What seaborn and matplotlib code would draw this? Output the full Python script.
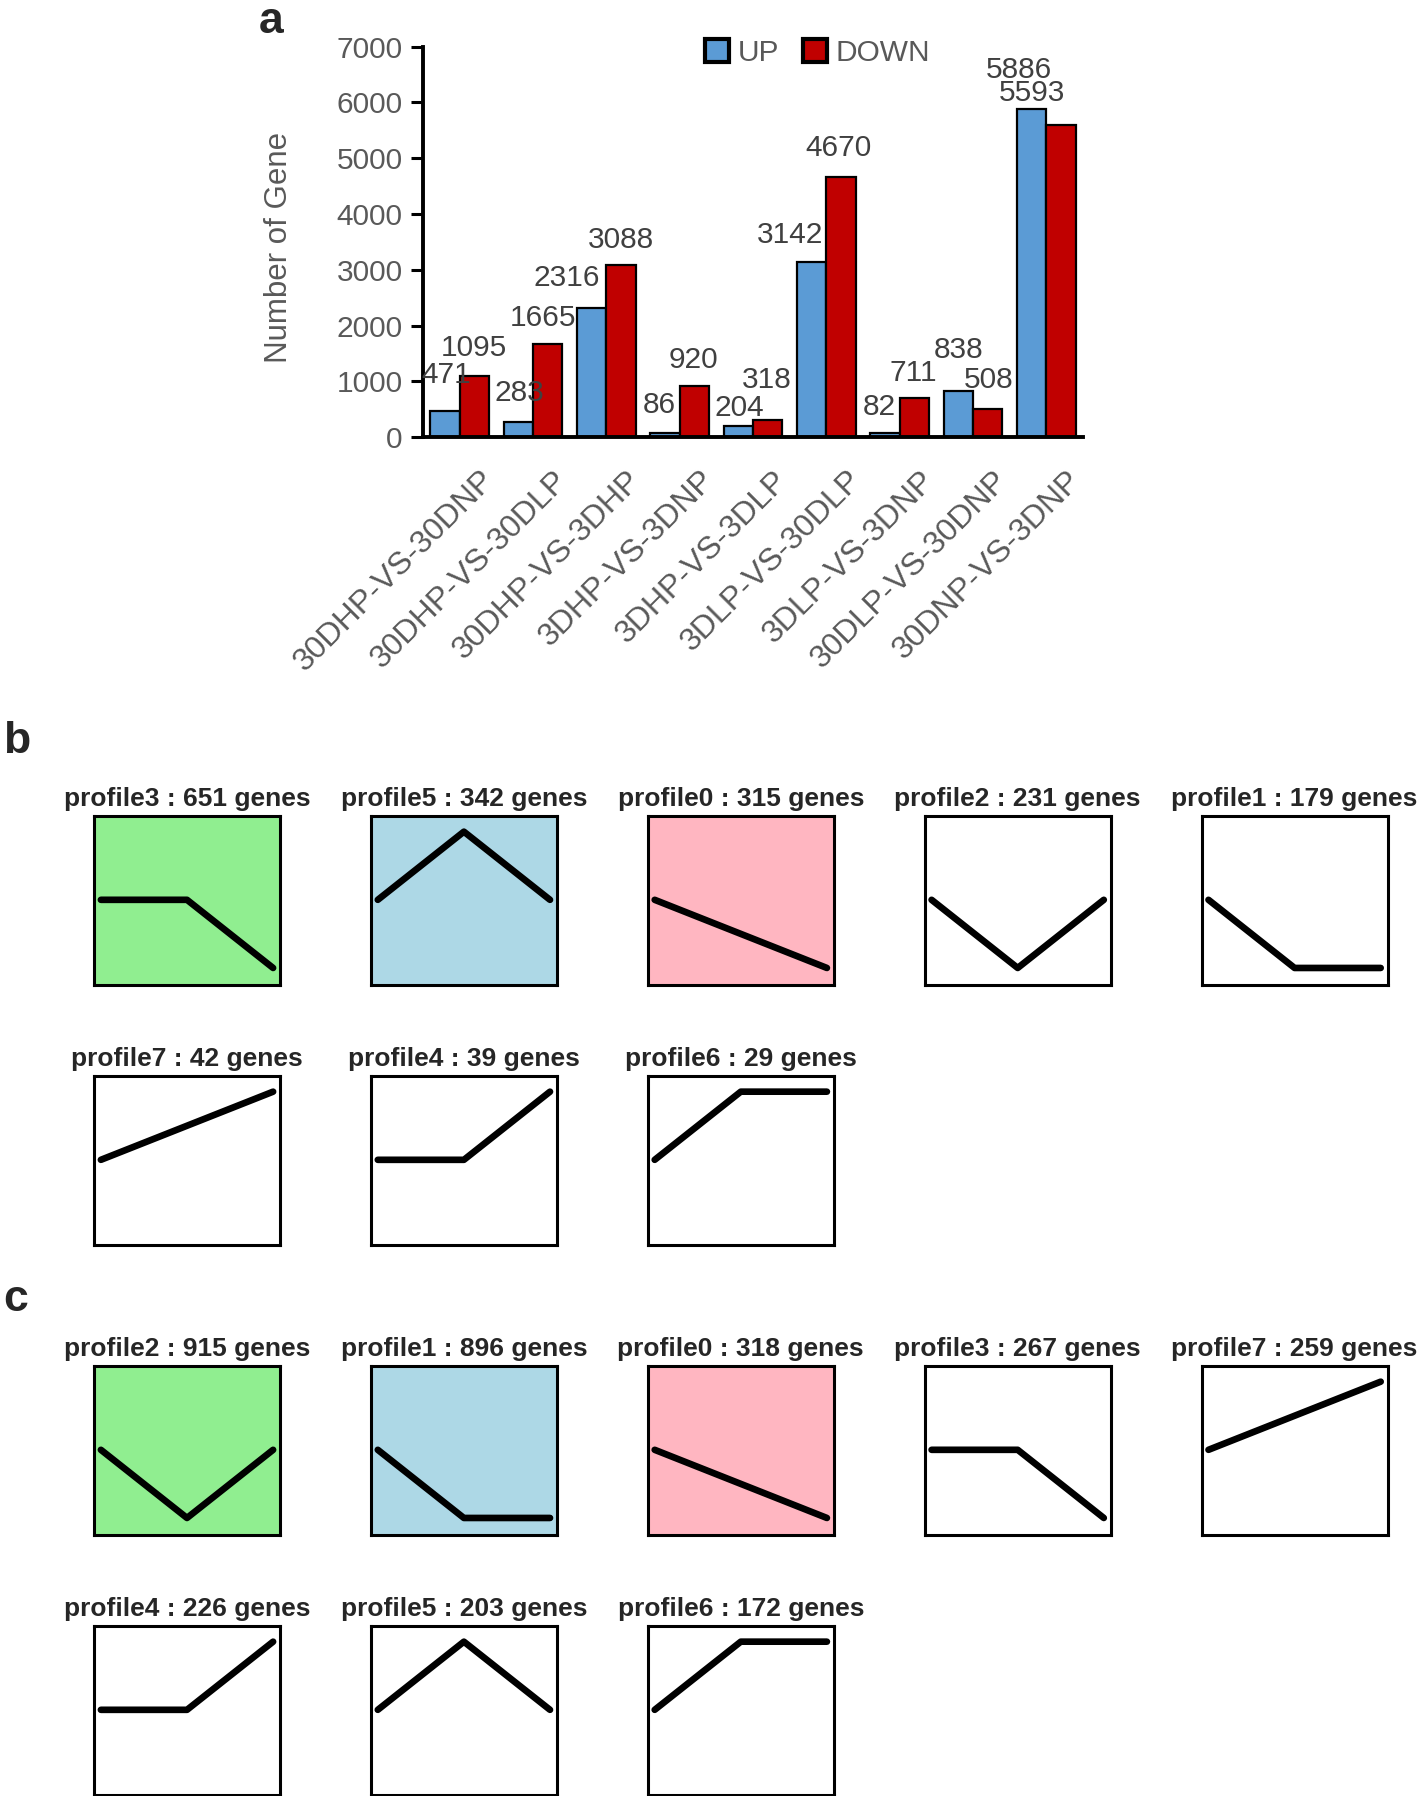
import numpy as np
import pandas as pd
import matplotlib
matplotlib.use("Agg")
import matplotlib.pyplot as plt
from matplotlib.transforms import ScaledTranslation
import seaborn as sns

# ---- panel a: DEG counts per comparison ----
comparisons = ["30DHP-VS-30DNP", "30DHP-VS-30DLP", "30DHP-VS-3DHP", "3DHP-VS-3DNP",
               "3DHP-VS-3DLP", "3DLP-VS-30DLP", "3DLP-VS-3DNP", "30DLP-VS-30DNP",
               "30DNP-VS-3DNP"]
up_counts = [471, 283, 2316, 86, 204, 3142, 82, 838, 5886]
down_counts = [1095, 1665, 3088, 920, 318, 4670, 711, 508, 5593]

# label nudges (pixels) so the numbers sit like in the figure
up_dx = [1.7, 1.3, -24.6, -5.5, 0.8, -22, -5.8, 0.4, -12.6]
up_dy = [36, 28.5, 30, 27.5, 18, 27, 26, 40.5, 39]
down_dx = [-0.4, -5, -0.5, -0.8, -1, -2, -1.2, 1, -28.8]
down_dy = [28, 26, 25, 26, 39.6, 28.7, 24.6, 29, 32]

# ---- panels b / c: STEM profiles ----
profile_shapes = {
    "profile0": [0, -0.5, -1],
    "profile1": [0, -1, -1],
    "profile2": [0, -1, 0],
    "profile3": [0, 0, -1],
    "profile4": [0, 0, 1],
    "profile5": [0, 1, 0],
    "profile6": [0, 1, 1],
    "profile7": [0, 0.5, 1],
}
b_profiles = ["profile3", "profile5", "profile0", "profile2", "profile1",
              "profile7", "profile4", "profile6"]
b_genes = [651, 342, 315, 231, 179, 42, 39, 29]
c_profiles = ["profile2", "profile1", "profile0", "profile3", "profile7",
              "profile4", "profile5", "profile6"]
c_genes = [915, 896, 318, 267, 259, 226, 203, 172]
box_colors = ["#90EE90", "#ADD8E6", "#FFB6C1", "white", "white",
              "white", "white", "white"]

sns.set_style("white")
plt.rcParams["font.family"] = ["Liberation Sans", "DejaVu Sans"]

W, H = 1424, 1796
fig = plt.figure(figsize=(W / 100, H / 100), dpi=100)

gray = "#595959"

# bar chart
ax = fig.add_axes([423 / W, 1 - 437.3 / H, 660 / W, 390.6 / H])
df = pd.DataFrame({
    "comparison": comparisons * 2,
    "direction": ["UP"] * len(up_counts) + ["DOWN"] * len(down_counts),
    "count": up_counts + down_counts,
})
sns.barplot(data=df, x="comparison", y="count", hue="direction",
            hue_order=["UP", "DOWN"], order=comparisons,
            palette={"UP": "#5B9BD5", "DOWN": "#C00000"}, saturation=1,
            edgecolor="black", linewidth=1.6, width=0.8, ax=ax)

for cont, vals, dxs, dys in zip(ax.containers, [up_counts, down_counts],
                                [up_dx, down_dx], [up_dy, down_dy]):
    for bar, v, dx, dy in zip(cont, vals, dxs, dys):
        ax.annotate(f"{v}", xy=(bar.get_x() + bar.get_width() / 2, bar.get_height()),
                    xytext=(dx * 0.72, dy * 0.72), textcoords="offset points",
                    ha="center", va="center", fontsize=21.5, color="#404040")

ax.set_xlim(-0.5, len(comparisons) - 0.5)
ax.set_ylim(0, 7000)
ax.set_yticks(range(0, 7001, 1000))
ax.set_xlabel("")
ax.set_ylabel("Number of Gene", fontsize=22.5, color=gray)
ax.yaxis.set_label_coords(-0.195, 0.485)
sns.despine(ax=ax)
for s in ["left", "bottom"]:
    ax.spines[s].set_linewidth(2.8)
    ax.spines[s].set_color("black")
ax.tick_params(axis="y", left=True, length=8.5, width=2.2, color="black",
               labelsize=21.5, labelcolor=gray, pad=6)
ax.tick_params(axis="x", bottom=False, length=0, labelsize=23, labelcolor=gray, pad=20)
shift = ScaledTranslation(0.20, 0, fig.dpi_scale_trans)
for lab in ax.get_xticklabels():
    lab.set_rotation(45)
    lab.set_ha("right")
    lab.set_va("top")
    lab.set_rotation_mode("anchor")
    lab.set_transform(lab.get_transform() + shift)

handles, labels = ax.get_legend_handles_labels()
leg = ax.legend(handles, labels, ncol=2, frameon=False, loc="center",
                bbox_to_anchor=(0.598, 0.984), fontsize=21.5, labelcolor=gray,
                handlelength=0.8, handleheight=0.8, handletextpad=0.3,
                columnspacing=0.8, borderpad=0)
for h in leg.legend_handles:
    h.set_linewidth(3)
    h.set_edgecolor("black")

fig.text(271 / W, 1 - 33 / H, "a", fontsize=32, fontweight="bold",
         ha="center", va="baseline")

# profile grids
lefts = [94 + 276.9 * i for i in range(5)]
row_bottoms = {"b": [985, 1245], "c": [1535, 1795]}
bw, bh = 186, 169


def draw_profiles(names, genes, bottoms):
    for k, (name, g) in enumerate(zip(names, genes)):
        row, col = divmod(k, 5)
        pax = fig.add_axes([lefts[col] / W, 1 - bottoms[row] / H, bw / W, bh / H])
        pdf = pd.DataFrame({"t": [0, 1, 2], "v": profile_shapes[name]})
        sns.lineplot(data=pdf, x="t", y="v", color="black", linewidth=4.8,
                     solid_capstyle="round", solid_joinstyle="round", ax=pax)
        pax.set_facecolor(box_colors[k])
        pax.set_xlim(-0.08, 2.08)
        pax.set_ylim(-1.25, 1.23)
        pax.set_xticks([])
        pax.set_yticks([])
        pax.set_xlabel("")
        pax.set_ylabel("")
        for s in pax.spines.values():
            s.set_visible(True)
            s.set_linewidth(2.2)
            s.set_color("black")
        pax.set_title(f"{name} : {g} genes", fontsize=19, fontweight="bold", pad=7)


draw_profiles(b_profiles, b_genes, row_bottoms["b"])
draw_profiles(c_profiles, c_genes, row_bottoms["c"])

fig.text(3 / W, 1 - 753 / H, "b", fontsize=32, fontweight="bold", ha="left", va="baseline")
fig.text(3 / W, 1 - 1311 / H, "c", fontsize=32, fontweight="bold", ha="left", va="baseline")

fig.savefig("out.png", dpi=100)
